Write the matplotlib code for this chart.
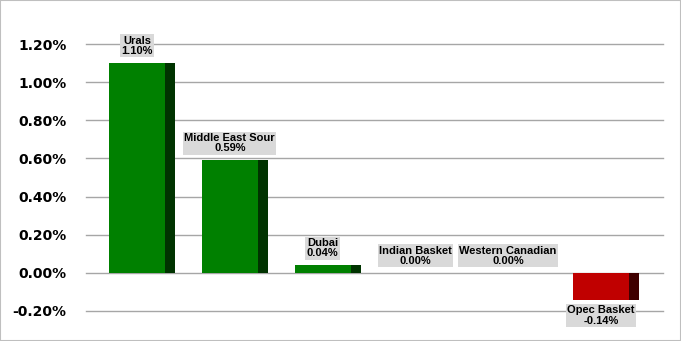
import numpy as np
import matplotlib.pyplot as plt
from matplotlib.ticker import FuncFormatter
from matplotlib.patches import Rectangle

categories = ['Urals', 'Middle East Sour', 'Dubai', 'Indian Basket', 'Western Canadian', 'Opec Basket']
values = [1.10, 0.59, 0.04, 0.00, 0.00, -0.14]

fig = plt.figure(figsize=(6.81, 3.41), dpi=100)
ax = fig.add_axes([86/681, 1 - 311/341, 577/681, (311 - 44)/341])

x = np.arange(len(categories))
front_w = 0.603
side_w = 0.108
left = x - 0.355

front_col = ['#008000' if v >= 0 else '#c00000' for v in values]
side_col = ['#003300' if v >= 0 else '#400000' for v in values]

ax.bar(left, values, width=front_w, align='edge', color=front_col, edgecolor='none', zorder=3)
ax.bar(left + front_w, values, width=side_w, align='edge', color=side_col, edgecolor='none', zorder=3)

box = dict(boxstyle='square,pad=0.12', fc='#d9d9d9', ec='none')
for xi, v, name in zip(left + front_w / 2, values, categories):
    txt = f'{name}\n{v:.2f}%'
    if v >= 0:
        ax.annotate(txt, (xi, v), xytext=(0, 5), textcoords='offset points',
                    ha='center', va='bottom', fontsize=8, fontweight='bold',
                    family='Liberation Sans', linespacing=1.05, bbox=box, zorder=4)
    else:
        ax.annotate(txt, (xi, v), xytext=(0, -4), textcoords='offset points',
                    ha='center', va='top', fontsize=8, fontweight='bold',
                    family='Liberation Sans', linespacing=1.05, bbox=box, zorder=4)

ax.set_xlim(-0.603, 5.615)
ax.set_ylim(-0.2, 1.2)
ax.set_yticks(np.arange(-0.2, 1.21, 0.2))
ax.yaxis.set_major_formatter(FuncFormatter(lambda v, p: f'{v:.2f}%'))
ax.set_xticks([])
ax.tick_params(axis='y', length=0, pad=14, labelsize=10)
for lab in ax.get_yticklabels():
    lab.set_fontweight('bold')
ax.grid(axis='y', color='#a6a6a6', linewidth=1, zorder=0)
for gl in ax.get_ygridlines():
    gl.set_clip_on(False)
for s in ax.spines.values():
    s.set_visible(False)

fig.patches.append(Rectangle((0, 0), 1, 1, transform=fig.transFigure, fill=False,
                             ec='#bfbfbf', lw=1.5))

fig.savefig('out.png', dpi=100)
